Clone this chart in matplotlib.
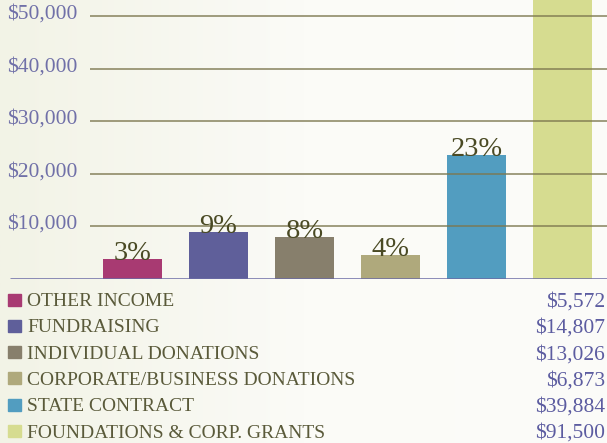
import numpy as np
import matplotlib.pyplot as plt
from matplotlib.patches import Rectangle
from matplotlib.colors import LinearSegmentedColormap

# data
categories = ["OTHER INCOME", "FUNDRAISING", "INDIVIDUAL DONATIONS",
              "CORPORATE/BUSINESS DONATIONS", "STATE CONTRACT",
              "FOUNDATIONS & CORP. GRANTS"]
amounts = ["$5,572", "$14,807", "$13,026", "$6,873", "$39,884", "$91,500"]
bar_heights = [3700, 8850, 7900, 4450, 23500, 91500]
pct_labels = ["3%", "9%", "8%", "4%", "23%", ""]
colors = ["#a83a72", "#5f5f9a", "#877f6c", "#afa97c", "#529dc0", "#d6dc90"]
yticks = [10000, 20000, 30000, 40000, 50000]
ytick_labels = ["$10,000", "$20,000", "$30,000", "$40,000", "$50,000"]

W, H = 607, 443
fig = plt.figure(figsize=(W / 100, H / 100), dpi=100)

# soft background gradient
bg = fig.add_axes([0, 0, 1, 1])
grad = np.linspace(0, 1, 256).reshape(1, -1)
cmap = LinearSegmentedColormap.from_list("bg", ["#f2f3e6", "#fbfbf7", "#fcfcf9"])
bg.imshow(grad, aspect="auto", cmap=cmap, extent=[0, 1, 0, 1])
bg.set_axis_off()

base_px = 278.5
ax = fig.add_axes([0, (H - base_px) / H, 1, base_px / H])
ax.set_facecolor("none")
x = np.arange(len(categories))
ax.set_xlim(-1.541, 5.517)
ax.set_ylim(0, 53050)

ax.bar(x, bar_heights, width=0.686, color=colors, zorder=2)

# gridlines over the bars
ax.hlines(yticks, -0.494, 5.517, color="#7d7850", lw=1.2, alpha=0.85, zorder=3)
# baseline
ax.hlines(0, -1.43, 5.517, color="#6b6ba5", lw=1.8, zorder=4)

for xi, h, lab in zip(x, bar_heights, pct_labels):
    if lab:
        ax.text(xi, h - 150, lab, ha="center", va="baseline", fontsize=20.5,
                family="Liberation Serif", color="#4a4a24", zorder=5)

for t, lab in zip(yticks, ytick_labels):
    ax.text(-0.645, t + 300, lab, ha="right", va="center", fontsize=15.5,
            family="Liberation Serif", color="#7070a8")

ax.set_axis_off()

# legend rows
for i, (cat, amt, c) in enumerate(zip(categories, amounts, colors)):
    yc = 299.5 + 26.3 * i
    fig.patches.append(Rectangle((8 / W, 1 - (yc + 6) / H), 13 / W, 12 / H,
                                 transform=fig.transFigure, color=c))
    fig.text(27 / W, 1 - yc / H, cat, ha="left", va="center_baseline",
             fontsize=14, family="Liberation Serif", color="#5a5a3a")
    fig.text(605 / W, 1 - yc / H, amt, ha="right", va="center_baseline",
             fontsize=15.5, family="Liberation Serif", color="#5c5ca0")

fig.savefig("out.png", dpi=100)
